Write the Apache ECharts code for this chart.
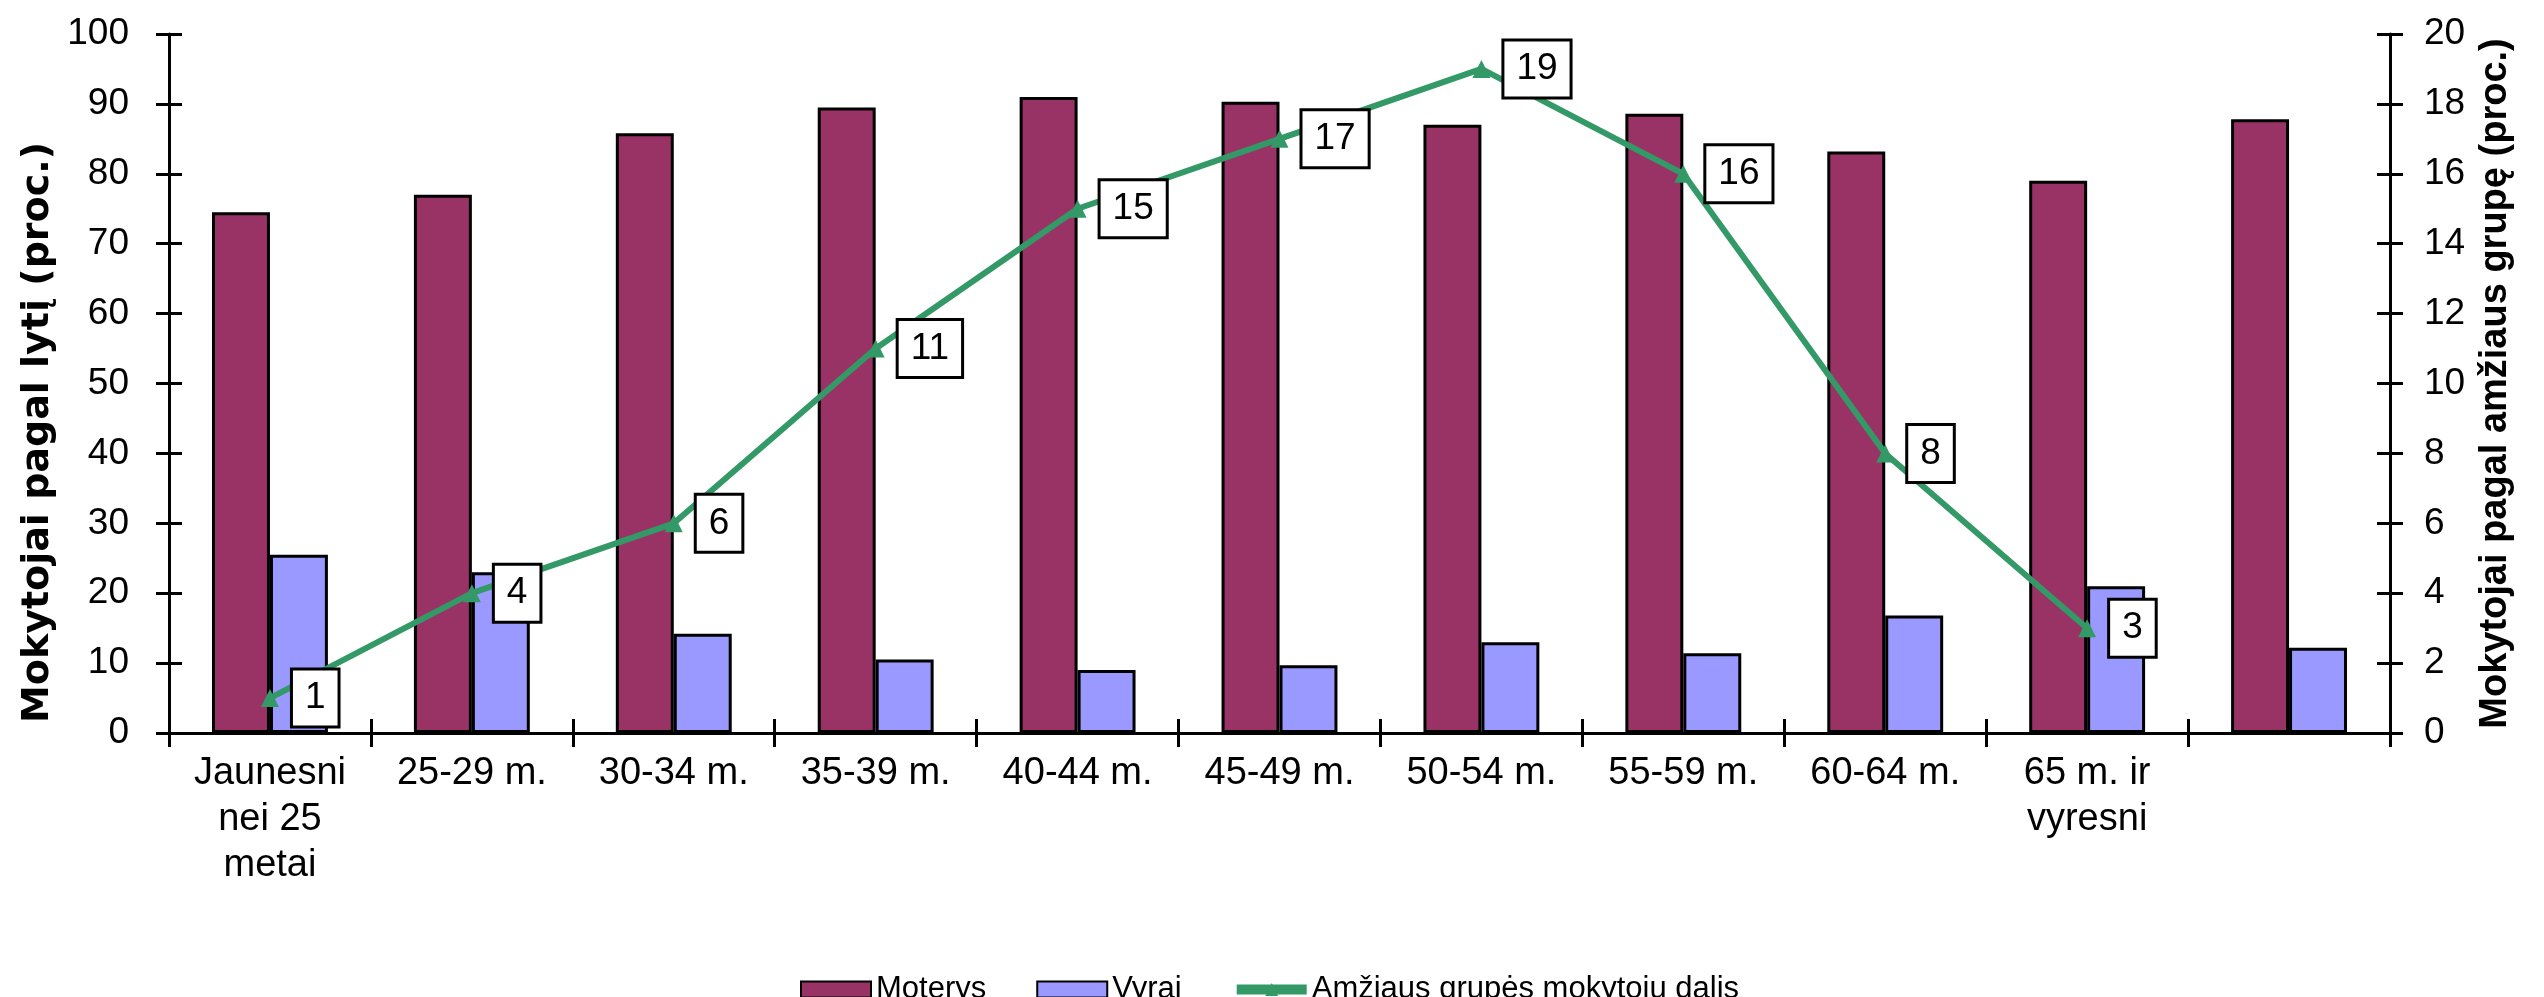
<!DOCTYPE html>
<html>
<head>
<meta charset="utf-8">
<script src="https://cdn.jsdelivr.net/npm/echarts@6/dist/echarts.min.js"></script>
<style>
html,body{margin:0;padding:0;background:#fff;}
#chart{width:2544px;height:997px;}
</style>
</head>
<body>
<div id="chart"></div>
<script>
const categories = ['Jaunesni\nnei 25\nmetai', '25-29 m.', '30-34 m.', '35-39 m.', '40-44 m.', '45-49 m.', '50-54 m.', '55-59 m.', '60-64 m.', '65 m. ir\nvyresni', ''];
const moterys = [74.5, 77, 85.8, 89.5, 91, 90.3, 87, 88.6, 83.2, 79, 87.8];
const vyrai = [25.5, 23, 14.2, 10.5, 9, 9.7, 13, 11.4, 16.8, 21, 12.2];
const amziausDalis = [1, 4, 6, 11, 15, 17, 19, 16, 8, 3];
const leftTicks = {min: 0, max: 100, interval: 10};
const rightTicks = {min: 0, max: 20, interval: 2};

const FONT = 'Liberation Sans, Arial, sans-serif';
const chart = echarts.init(document.getElementById('chart'), null, {renderer: 'canvas'});

const tickLine = {color: '#000', width: 3};

chart.setOption({
  backgroundColor: '#fff',
  animation: false,
  textStyle: {fontFamily: FONT},
  grid: {left: 169, right: 154, top: 34, bottom: 264, containLabel: false},
  legend: {
    left: 795, top: 969,
    itemWidth: 70, itemHeight: 16, itemGap: 50,
    textStyle: {fontFamily: FONT, fontSize: 31, color: '#000'},
    data: [
      {name: 'Moterys', icon: 'rect'},
      {name: 'Vyrai', icon: 'rect'},
      {name: 'Amžiaus grupės mokytojų dalis', lineStyle: {width: 10, color: '#339966'}}
    ]
  },
  xAxis: [{
    type: 'category',
    data: categories,
    position: 'bottom',
    axisLine: {show: true, lineStyle: tickLine},
    axisTick: {show: true, inside: false, length: 14, lineStyle: tickLine, alignWithLabel: false},
    axisLabel: {interval: 0, margin: 18, fontSize: 38, lineHeight: 46, color: '#000', fontFamily: FONT},
    splitLine: {show: false}
  }, {
    type: 'category',
    data: categories,
    position: 'bottom',
    axisLine: {show: false},
    axisTick: {show: true, inside: true, length: 14, lineStyle: tickLine},
    axisLabel: {show: false},
    splitLine: {show: false}
  }],
  yAxis: [{
    type: 'value', position: 'left',
    min: leftTicks.min, max: leftTicks.max, interval: leftTicks.interval,
    axisLine: {show: true, lineStyle: tickLine},
    axisTick: {show: true, length: 13, lineStyle: tickLine},
    axisLabel: {margin: 40, fontSize: 37, color: '#000', fontFamily: FONT},
    splitLine: {show: false},
    name: 'Mokytojai pagal lytį (proc.)',
    nameLocation: 'middle', nameGap: 112, nameMoveOverlap: false,
    nameTextStyle: {fontFamily: 'DejaVu Sans', fontWeight: 'bold', fontSize: 38, color: '#000', padding: [0, 98, 0, 0]}
  }, {
    type: 'value', position: 'right',
    min: rightTicks.min, max: rightTicks.max, interval: rightTicks.interval,
    axisLine: {show: true, lineStyle: tickLine},
    axisTick: {show: true, length: 13, lineStyle: tickLine},
    axisLabel: {margin: 34, fontSize: 37, color: '#000', fontFamily: FONT},
    splitLine: {show: false},
    name: 'Mokytojai pagal amžiaus grupę (proc.)',
    nameLocation: 'middle', nameGap: 87, nameMoveOverlap: false,
    nameTextStyle: {fontFamily: FONT, fontWeight: 'bold', fontSize: 38, color: '#000'}
  }, {
    type: 'value', position: 'left',
    min: leftTicks.min, max: leftTicks.max, interval: leftTicks.interval,
    axisLine: {show: false},
    axisTick: {show: true, inside: true, length: 13, lineStyle: tickLine},
    axisLabel: {show: false}, splitLine: {show: false}
  }, {
    type: 'value', position: 'right',
    min: rightTicks.min, max: rightTicks.max, interval: rightTicks.interval,
    axisLine: {show: false},
    axisTick: {show: true, inside: true, length: 13, lineStyle: tickLine},
    axisLabel: {show: false}, splitLine: {show: false}
  }],
  series: [{
    name: 'Moterys', type: 'bar', data: moterys,
    xAxisIndex: 0, yAxisIndex: 0,
    barWidth: '28.7%', barGap: '0%',
    itemStyle: {color: '#993366', borderColor: '#000', borderWidth: 3}
  }, {
    name: 'Vyrai', type: 'bar', data: vyrai,
    xAxisIndex: 0, yAxisIndex: 0,
    barWidth: '28.7%', barGap: '0%',
    itemStyle: {color: '#9999FF', borderColor: '#000', borderWidth: 3}
  }, {
    name: 'Amžiaus grupės mokytojų dalis', type: 'line', data: amziausDalis,
    xAxisIndex: 0, yAxisIndex: 1,
    z: 5,
    symbol: 'triangle', symbolSize: 18,
    lineStyle: {color: '#339966', width: 6},
    itemStyle: {color: '#339966'},
    label: {
      show: true, position: 'right', distance: 14,
      formatter: '{c}',
      fontFamily: FONT, fontSize: 37, color: '#000',
      backgroundColor: '#fff', borderColor: '#000', borderWidth: 3,
      padding: [10, 12, 8, 12]
    }
  }]
});
</script>
</body>
</html>
